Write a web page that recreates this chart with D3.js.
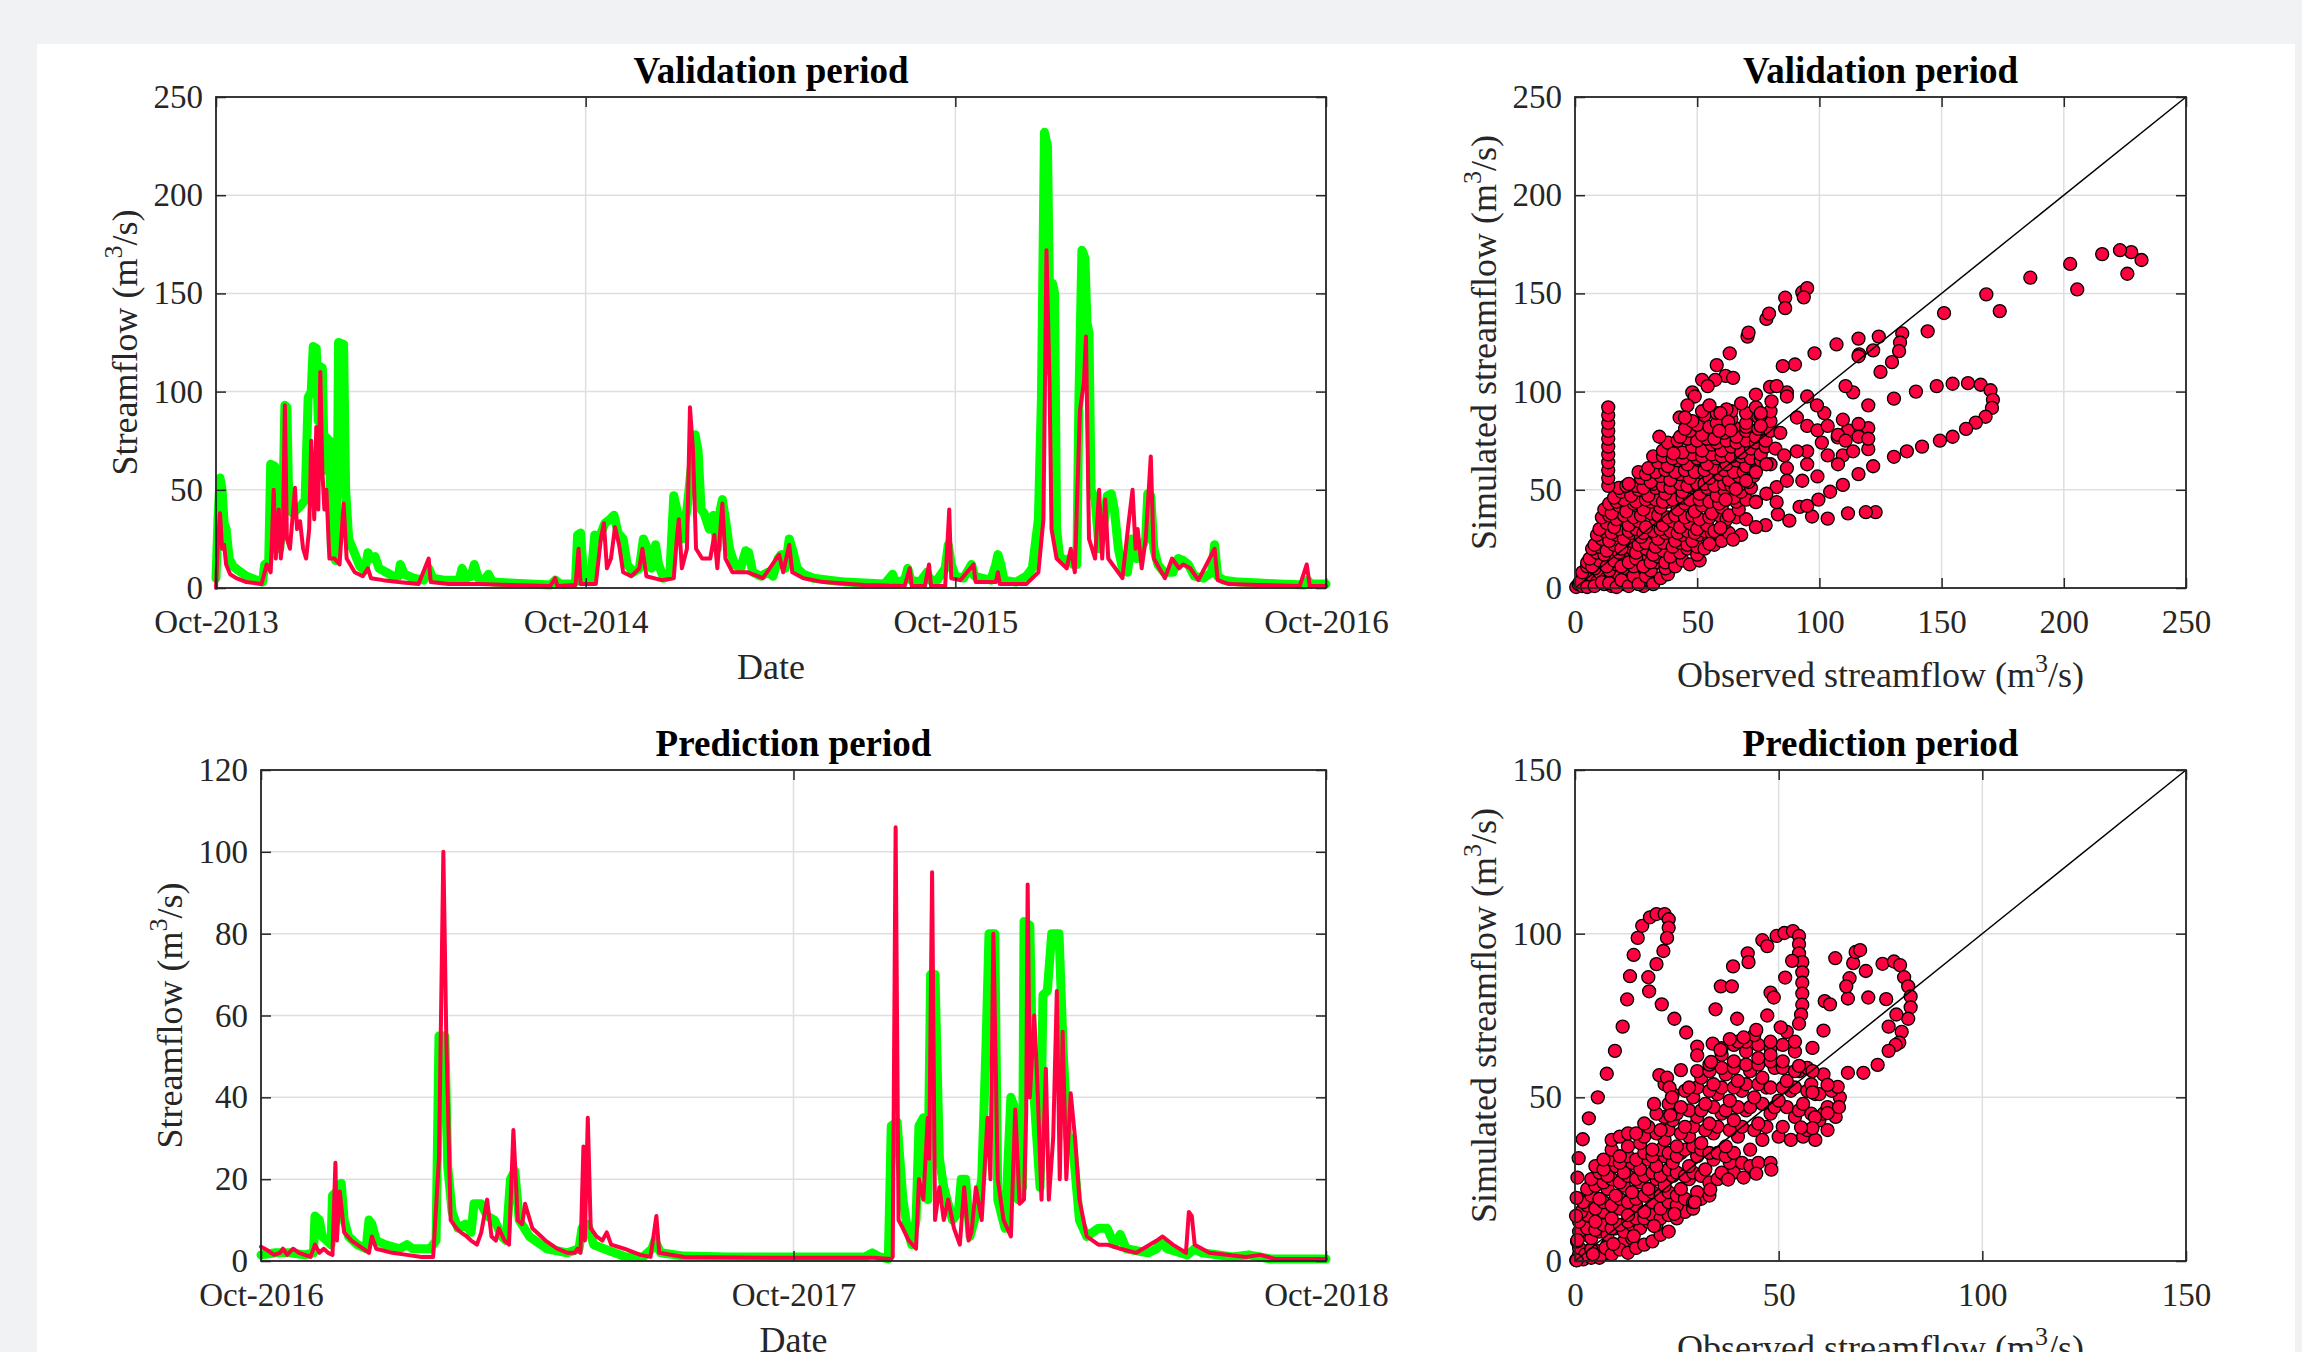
<!DOCTYPE html>
<html>
<head>
<meta charset="utf-8">
<script src="https://cdn.jsdelivr.net/npm/d3@7"></script>
<style>
  body { margin: 0; background: #f1f2f4; }
</style>
</head>
<body>
<script>
// ---- data ----
// time series: [day since period start, streamflow m3/s]
const valStart = "2013-10-01", predStart = "2016-10-01"
const valTicks = ["2013-10-01", "2014-10-01", "2015-10-01", "2016-10-01"]
const predTicks = ["2016-10-01", "2017-10-01", "2018-10-01"]
const valYTicks = [0, 50, 100, 150, 200, 250]
const predYTicks = [0, 20, 40, 60, 80, 100, 120]
const valScatTicks = [0, 50, 100, 150, 200, 250]
const predScatTicks = [0, 50, 100, 150]

const valObs = [[0,5],[2,35],[4,56],[6,50],[8,33],[10,30],[13,15],[17,11],[22,9],[30,6],[40,4],[46,3],[48,12],[52,13],[54,63],[58,62],[60,25],[63,20],[66,40],[68,93],[70,92],[72,40],[76,38],[80,40],[84,42],[88,45],[91,97],[94,100],[96,123],[99,122],[101,85],[102,113],[105,112],[107,60],[108,77],[112,75],[114,20],[118,14],[120,60],[121,125],[126,124],[128,50],[131,25],[135,20],[142,11],[147,9],[150,18],[153,15],[157,16],[161,10],[168,8],[175,6],[180,6],[182,12],[186,7],[195,5],[205,4],[210,10],[214,5],[225,4],[240,4],[243,10],[247,5],[252,6],[255,12],[259,5],[265,4],[269,7],[273,3],[290,2.5],[310,2],[330,1.5],[335,4],[340,2],[350,2],[355,3],[357,27],[360,28],[363,5],[370,4],[374,27],[378,25],[384,33],[389,35],[393,37],[397,28],[402,25],[406,12],[412,8],[418,10],[422,25],[426,20],[430,10],[434,22],[437,12],[442,5],[448,6],[452,47],[455,40],[460,25],[465,40],[469,60],[473,78],[476,70],[479,40],[482,38],[487,30],[491,37],[495,20],[498,40],[500,45],[503,35],[507,20],[512,12],[518,10],[523,19],[526,18],[530,8],[538,6],[545,8],[550,6],[555,15],[558,17],[562,10],[566,25],[569,20],[574,10],[580,7],[590,5],[605,4],[622,3],[640,2.5],[660,2],[668,7],[671,3],[680,4],[683,10],[686,4],[695,3],[702,8],[705,4],[712,4],[720,10],[723,22],[726,12],[730,6],[738,5],[746,12],[749,6],[756,5],[765,4],[770,12],[772,17],[775,12],[778,4],[790,3],[800,6],[806,10],[812,35],[815,96],[818,232],[821,225],[824,110],[826,155],[828,150],[830,30],[833,16],[838,14],[843,15],[846,12],[850,12],[852,95],[855,172],[858,168],[860,135],[862,130],[864,50],[868,45],[872,20],[876,30],[880,47],[884,48],[887,40],[891,20],[895,10],[900,8],[904,25],[909,15],[913,20],[918,25],[920,48],[923,47],[926,20],[930,12],[936,8],[945,8],[950,15],[955,14],[960,12],[966,6],[975,5],[983,8],[986,22],[989,6],[995,4],[1010,3],[1030,2.5],[1050,2],[1075,1.5],[1078,4],[1081,2],[1090,2],[1096,2]]

const valSim = [[0,0],[2,25],[4,38],[6,20],[8,22],[10,12],[14,7],[20,5],[30,3],[45,2],[50,12],[54,8],[57,50],[59,15],[62,40],[64,15],[66,25],[68,93],[70,25],[73,20],[78,51],[80,30],[83,34],[86,20],[89,15],[92,30],[94,75],[97,35],[99,82],[101,40],[103,110],[105,60],[107,40],[109,50],[112,15],[117,15],[122,12],[126,43],[129,15],[137,8],[145,6],[150,10],[153,5],[165,4],[180,3],[200,2],[210,15],[212,3],[230,2],[260,2],[290,1.5],[330,1],[335,5],[337,1],[355,1.5],[358,20],[360,2],[375,2],[380,25],[383,33],[386,10],[390,15],[394,31],[398,22],[402,8],[410,6],[418,10],[421,20],[425,6],[440,4],[452,5],[455,25],[457,35],[460,10],[465,20],[468,92],[471,70],[474,20],[480,15],[488,15],[492,27],[495,10],[500,43],[503,15],[510,8],[525,8],[540,5],[556,17],[560,8],[566,22],[569,8],[580,5],[600,3],[640,1.5],[680,1],[685,10],[687,1],[700,1],[704,12],[706,1],[720,1],[724,40],[726,5],[735,4],[748,12],[750,3],[770,3],[772,8],[774,2],[800,2],[812,8],[817,35],[820,172],[823,105],[825,30],[830,15],[840,10],[844,20],[848,8],[853,90],[857,105],[859,128],[862,25],[868,15],[872,50],[875,15],[878,45],[881,15],[895,5],[901,33],[905,50],[908,20],[910,30],[914,10],[918,25],[923,67],[926,15],[937,5],[944,15],[951,10],[955,12],[962,10],[970,4],[986,20],[989,4],[1000,2],[1030,1.5],[1070,1],[1077,12],[1080,1],[1096,1]]

const predObs = [[0,1.5],[10,2],[20,2],[30,1.5],[36,2],[37,11],[40,10],[42,6],[45,5],[48,4],[49,16],[52,17],[55,19],[57,10],[60,6],[66,4],[72,3],[74,10],[76,9],[79,5],[85,4],[95,3],[100,4],[104,3],[110,3],[116,3],[120,5],[122,55],[126,55],[128,23],[131,12],[135,8],[140,9],[144,7],[146,14],[151,14],[155,11],[160,10],[165,6],[168,5],[171,20],[174,22],[177,10],[184,6],[196,3],[210,2],[218,3],[220,8],[224,9],[228,4],[235,3],[250,1],[262,1],[268,3],[270,5],[274,2],[290,1.2],[320,1],[365,1],[400,1],[414,1],[419,2],[424,1],[430,0.5],[432,33],[436,34],[440,15],[443,8],[446,4],[449,10],[451,33],[454,35],[457,15],[459,70],[462,70],[465,25],[468,18],[474,10],[478,12],[480,20],[483,20],[486,6],[489,10],[491,14],[494,20],[497,53],[499,80],[503,80],[505,15],[510,8],[514,40],[516,38],[519,15],[522,18],[523,83],[527,82],[529,45],[534,18],[536,65],[539,66],[542,80],[547,80],[550,50],[553,30],[556,30],[561,10],[566,6],[574,8],[580,8],[585,4],[589,6.5],[593,3],[608,2],[614,3],[617,5],[621,3],[635,1.5],[640,3],[645,2],[666,1],[677,1.5],[692,0.5],[730,0.5]]

const predSim = [[0,3.5],[5,2.5],[9,1.5],[13,2],[15,3],[18,1.5],[22,3],[26,2],[34,1],[37,4],[40,2],[43,3],[46,2],[49,1.5],[51,24],[52,5],[54,17],[57,7],[62,5],[70,3],[74,2],[76,6],[79,3],[90,2],[100,1.5],[110,1],[118,1],[122,25],[125,100],[127,55],[130,10],[134,8],[137,7],[141,6],[144,5],[148,4],[151,7],[155,15],[158,6],[161,5],[163,8],[167,5],[170,4],[173,32],[176,10],[179,9],[181,14],[186,8],[195,5],[203,3],[210,2],[215,2],[217,3],[219,2],[221,28],[222,5],[224,35],[226,8],[230,6],[234,5],[237,7],[240,4],[249,3],[260,1.5],[267,1],[271,11],[273,2],[290,1],[350,0.8],[420,0.8],[432,0.5],[433,1],[435,106],[437,10],[440,8],[444,5],[449,3],[451,20],[454,15],[457,35],[458,25],[460,95],[462,10],[465,18],[468,10],[471,15],[475,8],[479,4],[482,18],[485,5],[487,7],[490,18],[494,10],[498,35],[500,20],[502,80],[505,20],[509,10],[514,6],[517,37],[520,14],[523,15],[524.5,36],[525.5,92],[527,40],[530,60],[532,45],[535,15],[538,47],[540,15],[543,30],[545.5,66],[547.5,20],[549.5,56],[552,20],[555,41],[558,30],[561,15],[566,6],[574,4],[580,4],[589,3],[600,2],[614,5],[618,6],[625,4],[634,2],[636,12],[638,11],[640,4],[650,2],[675,1],[685,1.5],[695,0.5],[730,0.5]]

// scatter: [observed, simulated]
const valScatter = [[231.8,167],[227.6,171],[223,172],[215.7,170],[226,160],[202.6,165],[205.5,152],[186.3,158],[173.8,141],[168.3,149.5],[151,140],[144.3,130.7],[133.9,129.6],[133,125],[132.6,120.6],[129.7,115],[125,110],[124.3,128],[116,127],[116.3,119],[107,124],[98,119.5],[90,113.8],[85,113],[79.8,102.4],[74,98.5],[63.3,119.5],[70.6,128],[78.3,137],[79.4,139.7],[86,147.8],[86,142.5],[93,150.6],[95,152.7],[93.6,148],[71,130],[58,113.5],[52,106],[48,99.6],[42.8,86.8],
[139.5,100],[148,102.8],[154.5,104],[160.8,104.3],[166,103.5],[170,100.7],[171,95.8],[170.6,91.7],[168,87.2],[164,84.2],[160,81],[154.5,77],[149.3,75],[142,72],[135.8,69.6],[130.5,66.8],[130.5,96.4],
[123,38.6],[119,38.6],[111.7,38],[103.4,35.3],[97,36.4],[91.9,41.3],[87.7,34.3],[83,37.5],[78,32],[74,31],[68,27],[64.7,24.6],[59.5,30.6],[55,22.5],
[122,62],[116,58],[109.6,52.5],[104.4,49],[99.6,45],[120,70.7],[109.6,67.5],[111.7,80.3],[107.5,76.7],[101,74],[95,69.6],[86.7,61],[82.5,51.4],[120,81.4],[116,83.5],[109.6,85.7],[102,89],[99,93],[95,97.5],[86.7,99.6],[82.5,102.8],[120,93],[113.8,99.6],[110.7,102.8],[122,121],[116,118],
[61.6,108],[57.4,106],[54.3,102.8],[49,97.5],[46,93],[45,86.8],[64.7,107],[59.5,89],[62.7,84.6],[63.7,80.3],[34.5,77],[40.3,68.5],[59,80],[76,89],[80.4,95],[86.7,97.5],[76,82.5],[90.8,86.8],[95,82.5],[99.2,80.3],[103.4,82.5],[107.6,78],[110.7,75],[116,77],[120,76],[113.8,69.6],[90.8,69.6],[85.6,67.5],[78.3,63],[74,59],[70,54.6],[65.8,50.3],[61.6,45],[74,43.7],[78.3,48],[95,63],[103.4,67.5],[107.6,63],[93,54.6],[99.2,56.8],[82.5,43.7],[95,41.8],[86.7,54.6],
[13.6,52],[13.6,56],[13.6,60],[13.6,64],[13.6,68],[13.6,72],[13.6,76],[13.6,80],[13.6,84],[13.6,88],[13.6,92]]

// dense low-flow cluster of the validation scatter
const valCluster = [[0.5,0.5],[1.5,2],[3,1],[4,4],[6,2],[7,6],[9,3],[10,8],[12,2],[13,5],[15,1],[16,4],[18,7],[20,2],[21,10],[23,5],[25,3],[27,8],[28,1],[30,4],
[2,3],[5,0.5],[8,1],[11,3],[14,2.5],[17,0.5],[19,4],[22,1],[24,6],[26,2],[29,6],[32,2],[35,5],[38,7],
[3,8],[5,11],[8,10],[11,13],[14,9],[17,12],[20,15],[24,11],[27,14],[31,9],[34,13],[37,10],[40,14],
[5,13],[7,11],[10,14],[13,11],[16,14],[19,11],[22,13],[25,15],[28,11],[31,13],[34,16],[37,13],[41,11],[44,14],[47,12],[51,14],
[6,15],[9,18],[12,17],[15,20],[18,18],[22,21],[25,18],[29,20],[32,17],[36,19],[39,16],[43,18],[46,20],[50,17],
[7,20],[10,21],[13,19],[16,22],[19,20],[23,24],[26,22],[29,23],[33,21],[36,23],[40,21],[43,23],[46,22],[50,21],[53,20],[57,22],[60,24],
[8,22],[11,25],[14,24],[17,27],[20,25],[23,28],[27,26],[30,29],[34,25],[37,28],[41,24],[44,27],[48,24],[51,27],[55,25],
[9,27],[12,29],[15,28],[18,30],[22,29],[25,30],[28,28],[32,29],[35,30],[39,29],[42,28],[46,29],[49,28],[53,29],[56,28],[60,30],[63,28],
[10,30],[13,33],[16,31],[19,35],[22,32],[26,34],[29,31],[33,35],[36,32],[40,34],[43,31],[47,33],[50,30],[54,32],[57,29],[61,33],
[11,36],[14,37],[17,35],[20,37],[24,36],[27,37],[31,38],[34,37],[38,36],[41,37],[45,36],[48,37],[51,35],[55,36],[59,37],[62,35],[66,36],[70,35],
[12,40],[15,38],[18,42],[21,39],[24,43],[28,40],[31,44],[35,41],[38,44],[42,40],[45,43],[49,39],[52,42],[56,38],[60,41],[63,37],[67,40],
[14,43],[17,44],[20,45],[25,44],[29,45],[33,45],[36,44],[40,45],[44,46],[47,45],[51,45],[55,44],[59,43],[62,45],[66,44],[70,45],[74,44],
[16,46],[19,49],[23,47],[26,50],[30,47],[33,51],[37,48],[40,52],[44,49],[47,52],[51,48],[54,51],[58,47],[61,50],[65,46],[68,49],
[18,51],[21,52],[25,52],[28,51],[32,53],[36,52],[39,51],[43,53],[46,52],[50,53],[53,53],[57,52],[61,53],[64,52],[68,53],[72,51],
[22,53],[27,56],[31,54],[35,57],[39,55],[43,58],[47,56],[51,59],[55,56],[59,58],[63,55],[67,57],[71,54],
[26,59],[29,58],[33,59],[37,60],[41,59],[45,60],[49,59],[53,60],[57,61],[61,60],[65,59],[69,59],[73,57],
[30,61],[34,64],[38,62],[42,65],[46,63],[50,66],[54,63],[58,66],[62,63],[66,65],[70,62],[74,60],
[32,67],[36,67],[40,66],[44,66],[48,68],[52,67],[56,68],[60,67],[64,67],[68,67],[72,66],[76,65],[80,63],
[36,70],[40,72],[44,69],[48,72],[52,70],[56,73],[60,70],[64,72],[68,69],[72,71],[76,68],
[38,74],[42,75],[46,76],[50,75],[54,76],[58,74],[62,75],[66,74],[70,75],[74,74],[78,72],[82,71],
[43,77],[47,80],[52,78],[57,76],[61,79],[66,77],[70,80],[74,77],[78,75],
[45,81],[50,83],[55,82],[60,81],[65,82],[70,82],[75,81],[80,80],[84,79],
[48,85],[53,88],[58,84],[64,86],[70,84],[75,87],[80,85],
[52,90],[58,89],[64,90],[70,89],[76,88],
[55,93],[62,91],[68,94],[74,92],[80,90]]

const predScatter = [[0.4,0.2],[0.6,6.4],[0.25,13.8],[0.4,19.3],[0.6,25.5],[0.9,31.4],[1.9,37.2],[3.4,43.6],[5.6,50],[7.8,57.2],[9.8,64.2],[11.7,71.6],[12.8,79.9],[13.5,87],[14.4,93.5],[15.4,98.7],[16.5,102.4],[18.4,105],[20,106],[22,106],[23,104.4],[23,101.8],[22.6,98.7],[21.7,94.7],[20,90.7],[18,86.7],[18.2,82.4],[21.3,78.4],[24.4,74],[27.3,69.8],[26,58.3],
[38.8,90],[39.8,74],[34.5,76.9],[35.8,83.9],[38.5,83.9],[42.4,94],[42.6,91.3],[46,98],[47.2,96.2],[49.5,99.3],[51.4,100.2],[53.5,100.8],[55,99.3],[55,96.8],[55,94],[55.8,91.3],[55.8,88.2],[55.8,85],[55.8,81.7],[55.8,78.3],[55.5,75.3],[55,72.5],[53.3,91.7],[51.6,86.6],[48,82],[48.8,80.5],[47.2,75],[50.5,71.4],[41.4,68.3],[44.5,70.6],[33.8,66.4],[30,65.5],[30,62.8],[33.4,60.8],[35.7,64.5],[38,67.8],[58.3,65.1],[55,59.6],
[63.9,92.5],[61.3,79.4],[62.6,78.4],[61,70.4],[67,80.2],[67.4,86.4],[66.6,83.9],[68.3,91],[68.9,94.4],[70,95],[71.4,88.6],[72,80.5],[76.4,80],[75.5,90.8],[78.3,91.5],[79.8,90.4],[80.8,86.7],[81.8,83.9],[82.4,80.8],[82.4,77.5],[81.8,74],[80.2,70],[79.6,66.7],[78.7,66],[77,71.6],[78.9,75.3],[77,64.2],[74.3,59.9],[70.8,57.5],[67,57.5],[64.5,53.2],[62,53.8],[64.8,47],[62,45.2],[58.9,43.9],[58.3,40.6],[55.5,40.8],[58.3,58],[58.3,51.5],
[48.2,27.9],[44.5,26.7],[41.4,25.5],[37.6,24.9],[33.2,21.8],[29.4,18],[24.4,14.4],[19.4,10.7],[14.4,7.6],[9.4,5.2],[4.4,2.1],
[19.4,48],[22,54],[20.7,56.8],[22.6,56],[23.2,53],[23.8,50],[23.4,44.5]]

// dense low-flow cluster of the prediction scatter
const predCluster = [[0.3,0.3],[1,2],[2,0.5],[3,3],[4,1],[5.5,3],[7,2],[8,5],[10,4],[12,6],[14,7],
[1,4],[2.5,2],[4,3.5],[6,1],[7.5,4],[9,2],[11,3.5],[13,2.5],[15,4],[17,5],[19,6],[21,8],[23,9],
[0.5,6],[2,8],[4,7],[6,9],[8,8],[10,10],[12,9],[14,11],[16,10],[18,12],[20,11],
[1,9],[3,10],[5,9.5],[7,11],[9,10],[11,11],[13,12],[15,13],[17,13],[19,14],[21,13],[23,14],[25,13],[27,15],[29,16],
[1,12],[3,14],[5,12],[7,15],[9,13],[11,16],[13,14],[15,17],[17,15],[19,18],[21,16],[23,18],[25,17],
[1.5,15],[3,17],[5,16],[7,18],[9,17],[11,19],[13,18],[15,19],[17,20],[19,21],[21,20],[23,21],[25,20],[27,19],[29,18],[31,19],[33,20],
[2,18],[4,20],[6,19],[8,22],[10,20],[12,23],[14,21],[16,24],[18,22],[20,25],[22,23],[24,26],[26,22],[28,25],[30,21],
[3,22],[5,23],[7,24],[9,25],[11,24],[13,26],[15,25],[17,26],[19,27],[21,26],[23,28],[25,27],[27,26],[29,27],[31,26],[33,24],[35,25],[37,26],[39,27],
[4,25],[6,27],[8,26],[10,29],[12,27],[14,30],[16,28],[18,31],[20,29],[22,32],[24,30],[26,33],[28,29],[30,32],[32,28],[34,31],[36,27],[38,30],
[5,29],[7,28],[9,31],[11,30],[13,32],[15,31],[17,33],[19,32],[21,34],[23,33],[25,32],[27,34],[29,35],[31,34],[33,33],[35,33],[37,32],[39,33],[41,30],[43,29],[45,30],
[7,31],[9,34],[11,32],[13,35],[16,36],[19,34],[22,37],[25,35],[28,38],[31,36],[34,39],[37,35],[40,38],[43,34],[46,37],[48,30],
[9,37],[11,38],[13,39],[17,38],[20,39],[23,40],[26,39],[29,41],[32,40],[35,41],[38,40],[41,41],[44,40],[47,41],[50,38],[53,37],[56,38],[59,37],[62,40],
[15,39],[18,41],[21,40],[24,43],[27,41],[30,44],[33,42],[36,45],[39,43],[42,46],[45,42],[48,45],[51,41],[54,44],[57,40],[60,43],
[17,42],[22,44],[25,45],[28,46],[31,46],[34,47],[37,46],[40,47],[43,47],[46,48],[49,47],[52,47],[55,46],[58,45],[61,45],[64,44],
[20,45],[23,48],[26,47],[29,50],[32,48],[35,51],[38,49],[41,52],[44,50],[47,53],[50,49],[53,52],[56,48],[59,51],[62,47],[65,50],
[24,51],[27,52],[30,53],[33,52],[36,53],[39,53],[42,54],[45,54],[48,53],[51,53],[54,53],[57,52],[60,51],[63,52],
[28,53],[31,56],[34,54],[37,57],[40,55],[43,58],[46,56],[49,59],[52,55],[55,58],[58,54],[61,57],
[30,58],[33,58],[36,59],[39,59],[42,60],[45,60],[48,61],[51,59],[54,58],[57,59],
[33,60],[36,63],[39,61],[42,64],[45,62],[48,65],[51,61],[54,64],
[36,65],[39,66],[42,67],[45,66],[48,63],[51,66],[54,67],
[40,67],[44,69],[48,67],[52,70]]

// ---- drawing ----
const W = 2302, H = 1352
const font = "'Liberation Serif', 'Times New Roman', serif"
const ink = "#262626"
const green = "#00ff00", red = "#ff0040"
const parse = d3.timeParse("%Y-%m-%d")
const fmt = d3.timeFormat("%b-%Y")

const svg = d3.select("body").append("svg")
  .attr("width", W).attr("height", H)
  .style("display", "block")
  .attr("font-family", font)

svg.append("rect").attr("width", W).attr("height", H).attr("fill", "#f1f2f4")
svg.append("rect").attr("x", 37).attr("y", 44).attr("width", 2258).attr("height", H - 44).attr("fill", "#fff")

// text with m^3/s superscript
function unitText(sel, before) {
  sel.append("tspan").text(before + "(m")
  sel.append("tspan").attr("font-size", 26).attr("dy", -15).text("3")
  sel.append("tspan").attr("dy", 15).text("/s)")
}

function grid(g, x, y, box, xt, yt) {
  g.append("g").selectAll("line").data(yt).join("line")
    .attr("x1", box.x0).attr("x2", box.x1)
    .attr("y1", d => y(d)).attr("y2", d => y(d))
    .attr("stroke", "#dfdfdf").attr("stroke-width", 1.5)
  g.append("g").selectAll("line").data(xt).join("line")
    .attr("y1", box.y0).attr("y2", box.y1)
    .attr("x1", d => x(d)).attr("x2", d => x(d))
    .attr("stroke", "#dfdfdf").attr("stroke-width", 1.5)
}

function axes(g, x, y, box, xt, yt, xfmt) {
  const styleAx = a => {
    a.select(".domain").remove()
    a.selectAll("line").attr("stroke", ink).attr("stroke-width", 1.5)
    a.selectAll("text").attr("fill", ink).attr("font-size", 33).attr("font-family", font)
  }
  g.append("g").attr("transform", `translate(0,${box.y1})`)
    .call(d3.axisBottom(x).tickValues(xt).tickFormat(xfmt).tickSize(-10).tickSizeOuter(0).tickPadding(22))
    .call(styleAx)
  g.append("g").attr("transform", `translate(${box.x0},0)`)
    .call(d3.axisLeft(y).tickValues(yt).tickSize(-10).tickSizeOuter(0).tickPadding(13))
    .call(styleAx)
  g.append("g").attr("transform", `translate(0,${box.y0})`)
    .call(d3.axisTop(x).tickValues(xt).tickFormat(() => "").tickSize(-10).tickSizeOuter(0))
    .call(styleAx)
  g.append("g").attr("transform", `translate(${box.x1},0)`)
    .call(d3.axisRight(y).tickValues(yt).tickFormat(() => "").tickSize(-10).tickSizeOuter(0))
    .call(styleAx)
  g.append("rect")
    .attr("x", box.x0).attr("y", box.y0)
    .attr("width", box.x1 - box.x0).attr("height", box.y1 - box.y0)
    .attr("fill", "none").attr("stroke", ink).attr("stroke-width", 1.8)
}

function labels(g, box, title, xl) {
  const cx = (box.x0 + box.x1) / 2, cy = (box.y0 + box.y1) / 2
  g.append("text").attr("x", cx).attr("y", box.y0 - 14.5)
    .attr("text-anchor", "middle").attr("font-size", 37).attr("font-weight", "bold")
    .attr("fill", "#000").text(title)
  const xt = g.append("text").attr("x", cx).attr("text-anchor", "middle")
    .attr("font-size", 36).attr("fill", ink)
  if (xl) xt.attr("y", box.y1 + 91).text(xl)
  else xt.attr("y", box.y1 + 99).call(unitText, "Observed streamflow ")
  g.append("text")
    .attr("transform", `translate(${box.x0 - 79},${cy}) rotate(-90)`)
    .attr("text-anchor", "middle").attr("font-size", 36).attr("fill", ink)
    .call(unitText, xl ? "Streamflow " : "Simulated streamflow ")
}

function drawSeries(box, start, ticks, yt, obs, sim, title) {
  const t0 = parse(start)
  const tk = ticks.map(parse)
  const dayDate = d => new Date(t0.getTime() + d * 864e5)
  const x = d3.scaleTime().domain([tk[0], tk[tk.length - 1]]).range([box.x0, box.x1])
  const y = d3.scaleLinear().domain([0, yt[yt.length - 1]]).range([box.y1, box.y0])
  const g = svg.append("g")
  grid(g, x, y, box, tk, yt)
  const line = d3.line().x(d => x(dayDate(d[0]))).y(d => y(d[1]))
  g.append("path").datum(obs).attr("d", line)
    .attr("fill", "none").attr("stroke", green).attr("stroke-width", 9)
    .attr("stroke-linejoin", "round").attr("stroke-linecap", "round")
  g.append("path").datum(sim).attr("d", line)
    .attr("fill", "none").attr("stroke", red).attr("stroke-width", 4)
    .attr("stroke-linejoin", "round").attr("stroke-linecap", "round")
  axes(g, x, y, box, tk, yt, fmt)
  labels(g, box, title, "Date")
}

function drawScatter(box, ticks, pts, title) {
  const max = ticks[ticks.length - 1]
  const x = d3.scaleLinear().domain([0, max]).range([box.x0, box.x1])
  const y = d3.scaleLinear().domain([0, max]).range([box.y1, box.y0])
  const g = svg.append("g")
  grid(g, x, y, box, ticks, ticks)
  g.append("g").selectAll("circle").data(pts).join("circle")
    .attr("cx", d => x(d[0])).attr("cy", d => y(d[1])).attr("r", 6.5)
    .attr("fill", red).attr("stroke", "#000").attr("stroke-width", 1.3)
  g.append("line")
    .attr("x1", x(0)).attr("y1", y(0)).attr("x2", x(max)).attr("y2", y(max))
    .attr("stroke", "#000").attr("stroke-width", 1.5)
  axes(g, x, y, box, ticks, ticks, d3.format("d"))
  labels(g, box, title, null)
}

drawSeries({x0: 216, x1: 1326, y0: 97, y1: 588}, valStart, valTicks, valYTicks, valObs, valSim, "Validation period")
drawSeries({x0: 261, x1: 1326, y0: 770, y1: 1261}, predStart, predTicks, predYTicks, predObs, predSim, "Prediction period")
drawScatter({x0: 1575, x1: 2186, y0: 97, y1: 588}, valScatTicks, valCluster.concat(valScatter), "Validation period")
drawScatter({x0: 1575, x1: 2186, y0: 770, y1: 1261}, predScatTicks, predCluster.concat(predScatter), "Prediction period")
</script>
</body>
</html>
